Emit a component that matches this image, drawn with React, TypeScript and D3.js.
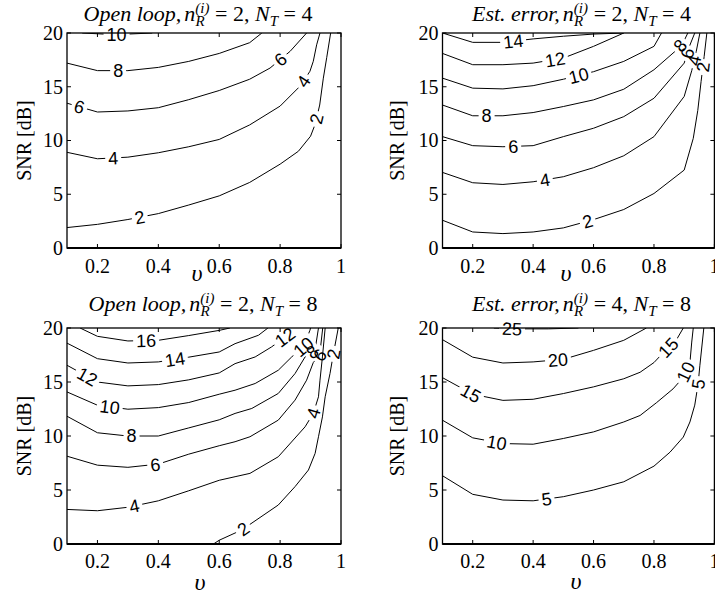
import React from "react";
import * as d3 from "d3";

type Pt = [number, number];
interface Contour { level: number; pts: Pt[] }
interface Label { level: number; v: number; s: number }

const xTicks = [0.2, 0.4, 0.6, 0.8, 1];
const yTicks = [0, 5, 10, 15, 20];
const xDomain: [number, number] = [0.1, 1];
const yDomain: [number, number] = [0, 20];

// Panel 1: Open loop, nR=2, NT=4
const ol4Contours: Contour[] = [
  { level: 2, pts: [[0.1, 1.9], [0.2, 2.2], [0.3, 2.65], [0.4, 3.2], [0.5, 4.0], [0.6, 4.85], [0.7, 6.1], [0.8, 7.8], [0.86, 9.0], [0.9, 10.4], [0.915, 11.5], [0.93, 13.3], [0.942, 15.8], [0.953, 17.7], [0.966, 20]] },
  { level: 4, pts: [[0.1, 8.9], [0.2, 8.3], [0.3, 8.45], [0.4, 8.86], [0.5, 9.42], [0.6, 10.1], [0.7, 11.45], [0.8, 13.2], [0.865, 15.04], [0.898, 16.44], [0.909, 17.37], [0.92, 18.9], [0.931, 20]] },
  { level: 6, pts: [[0.1, 13.47], [0.2, 12.65], [0.3, 12.75], [0.4, 13.05], [0.5, 13.8], [0.6, 14.65], [0.7, 15.7], [0.767, 16.74], [0.833, 18.3], [0.887, 20]] },
  { level: 8, pts: [[0.1, 17.2], [0.2, 16.5], [0.3, 16.5], [0.4, 16.8], [0.5, 17.36], [0.6, 18.1], [0.7, 19.1], [0.74, 20]] },
  { level: 10, pts: [[0.15, 20], [0.22, 19.9], [0.3, 19.9], [0.38, 20]] },
];
const ol4Labels: Label[] = [
  { level: 2, v: 0.34, s: 2.7 }, { level: 2, v: 0.92, s: 12.0 },
  { level: 4, v: 0.252, s: 8.3 }, { level: 4, v: 0.882, s: 15.4 },
  { level: 6, v: 0.137, s: 12.8 }, { level: 6, v: 0.805, s: 17.4 },
  { level: 8, v: 0.268, s: 16.45 },
  { level: 10, v: 0.263, s: 19.9 },
];

// Panel 2: Est. error, nR=2, NT=4
const ee4Contours: Contour[] = [
  { level: 2, pts: [[0.1, 2.58], [0.2, 1.49], [0.3, 1.34], [0.4, 1.49], [0.5, 1.87], [0.6, 2.64], [0.7, 3.58], [0.8, 5.07], [0.9, 7.25], [0.93, 10.2], [0.945, 12.8], [0.956, 15.5], [0.966, 17.8], [0.975, 20]] },
  { level: 4, pts: [[0.1, 7.03], [0.2, 6.07], [0.3, 5.91], [0.4, 6.16], [0.5, 6.63], [0.6, 7.47], [0.7, 8.58], [0.8, 10.36], [0.9, 14.1], [0.925, 16.5], [0.94, 18.3], [0.952, 20]] },
  { level: 6, pts: [[0.1, 10.36], [0.2, 9.52], [0.3, 9.42], [0.4, 9.52], [0.5, 10.36], [0.6, 11.14], [0.7, 12.22], [0.8, 13.93], [0.9, 17.2], [0.915, 18.6], [0.935, 20]] },
  { level: 8, pts: [[0.1, 13.3], [0.2, 12.3], [0.3, 12.3], [0.4, 12.6], [0.5, 13.16], [0.6, 13.78], [0.7, 14.77], [0.8, 16.58], [0.87, 18.3], [0.9, 19.3], [0.912, 20]] },
  { level: 10, pts: [[0.1, 15.8], [0.2, 14.87], [0.3, 14.8], [0.4, 15.1], [0.5, 15.7], [0.6, 16.4], [0.7, 17.36], [0.8, 18.76], [0.825, 20]] },
  { level: 12, pts: [[0.1, 18.1], [0.2, 17.05], [0.3, 17.05], [0.4, 17.2], [0.5, 17.67], [0.6, 18.76], [0.7, 20]] },
  { level: 14, pts: [[0.1, 20], [0.2, 19.13], [0.3, 19.13], [0.4, 19.45], [0.5, 19.7], [0.6, 19.9], [0.7, 20]] },
];
const ee4Labels: Label[] = [
  { level: 2, v: 0.583, s: 2.2 }, { level: 2, v: 0.972, s: 16.8 },
  { level: 4, v: 0.439, s: 6.3 }, { level: 4, v: 0.939, s: 17.4 },
  { level: 6, v: 0.334, s: 9.42 }, { level: 6, v: 0.913, s: 18.1 },
  { level: 8, v: 0.246, s: 12.2 }, { level: 8, v: 0.884, s: 18.9 },
  { level: 10, v: 0.55, s: 16.1 },
  { level: 12, v: 0.472, s: 17.67 },
  { level: 14, v: 0.334, s: 19.2 },
];

// Panel 3: Open loop, nR=2, NT=8
const ol8Contours: Contour[] = [
  { level: 2, pts: [[0.581, 0], [0.6, 0.35], [0.674, 1.3], [0.794, 3.61], [0.849, 5.31], [0.893, 6.85], [0.915, 8.39], [0.926, 9.93], [0.939, 11.77], [0.948, 13.63], [0.964, 15.8], [0.975, 17.6], [0.991, 20]] },
  { level: 4, pts: [[0.1, 3.2], [0.2, 3.08], [0.3, 3.4], [0.4, 4.0], [0.5, 4.93], [0.6, 5.9], [0.652, 6.23], [0.701, 6.54], [0.794, 8.08], [0.882, 10.85], [0.909, 12.09], [0.926, 13.63], [0.931, 15.17], [0.939, 17.32], [0.948, 20]] },
  { level: 6, pts: [[0.1, 8.13], [0.2, 7.3], [0.3, 7.1], [0.4, 7.4], [0.5, 8.32], [0.6, 9.1], [0.652, 9.47], [0.701, 9.93], [0.794, 11.47], [0.849, 13.32], [0.887, 15.17], [0.909, 16.8], [0.93, 17.5], [0.94, 20]] },
  { level: 8, pts: [[0.1, 11.83], [0.2, 10.3], [0.3, 10.0], [0.4, 10.0], [0.5, 10.75], [0.6, 11.5], [0.652, 12.09], [0.707, 12.55], [0.794, 13.94], [0.849, 15.78], [0.882, 17.32], [0.915, 18.0], [0.926, 20]] },
  { level: 10, pts: [[0.1, 14.08], [0.2, 12.85], [0.3, 12.48], [0.4, 12.63], [0.5, 13.1], [0.6, 13.87], [0.652, 14.24], [0.718, 14.86], [0.794, 16.09], [0.838, 17.32], [0.876, 18.25], [0.898, 19.79], [0.9, 20]] },
  { level: 12, pts: [[0.1, 16.55], [0.2, 15.0], [0.3, 14.64], [0.4, 14.76], [0.5, 15.2], [0.6, 15.84], [0.652, 16.7], [0.718, 17.32], [0.772, 18.25], [0.816, 19.17], [0.844, 20]] },
  { level: 14, pts: [[0.1, 18.6], [0.2, 17.16], [0.3, 16.76], [0.4, 16.86], [0.5, 17.3], [0.6, 17.78], [0.652, 18.55], [0.729, 19.33], [0.76, 20]] },
  { level: 16, pts: [[0.143, 20], [0.2, 19.23], [0.3, 18.8], [0.4, 18.86], [0.5, 19.3], [0.6, 19.78], [0.635, 20]] },
];
const ol8Labels: Label[] = [
  { level: 2, v: 0.68, s: 1.35 }, { level: 2, v: 0.975, s: 17.6 },
  { level: 4, v: 0.323, s: 3.3 }, { level: 4, v: 0.912, s: 12.1 },
  { level: 6, v: 0.39, s: 7.3 }, { level: 6, v: 0.93, s: 17.5 },
  { level: 8, v: 0.312, s: 9.95 }, { level: 8, v: 0.905, s: 17.8 },
  { level: 10, v: 0.24, s: 12.6 }, { level: 10, v: 0.876, s: 18.25 },
  { level: 12, v: 0.165, s: 15.4 }, { level: 12, v: 0.816, s: 19.17 },
  { level: 14, v: 0.455, s: 17.0 },
  { level: 16, v: 0.36, s: 18.75 },
];

// Panel 4: Est. error, nR=4, NT=8
const ee8Contours: Contour[] = [
  { level: 5, pts: [[0.1, 6.32], [0.2, 4.6], [0.3, 4.07], [0.4, 4.0], [0.5, 4.38], [0.6, 5.0], [0.7, 5.76], [0.8, 7.21], [0.853, 8.5], [0.897, 9.9], [0.919, 11.3], [0.935, 12.86], [0.946, 14.8], [0.952, 16.55], [0.965, 20]] },
  { level: 10, pts: [[0.1, 11.46], [0.2, 9.83], [0.3, 9.3], [0.4, 9.24], [0.5, 9.77], [0.6, 10.38], [0.7, 11.3], [0.754, 11.9], [0.809, 13.1], [0.863, 14.36], [0.896, 15.4], [0.919, 16.8], [0.925, 18.7], [0.93, 20]] },
  { level: 15, pts: [[0.1, 15.4], [0.2, 13.87], [0.3, 13.3], [0.4, 13.4], [0.5, 13.93], [0.6, 14.55], [0.7, 15.3], [0.754, 15.9], [0.8, 16.8], [0.847, 18.2], [0.87, 18.7], [0.897, 20]] },
  { level: 20, pts: [[0.1, 18.92], [0.2, 17.3], [0.3, 16.76], [0.4, 16.86], [0.5, 17.1], [0.6, 17.93], [0.7, 18.86], [0.775, 20]] },
  { level: 25, pts: [[0.27, 20], [0.35, 19.92], [0.45, 19.92], [0.55, 20]] },
];
const ee8Labels: Label[] = [
  { level: 5, v: 0.445, s: 4.0 }, { level: 5, v: 0.946, s: 14.8 },
  { level: 10, v: 0.279, s: 9.3 }, { level: 10, v: 0.908, s: 15.9 },
  { level: 15, v: 0.191, s: 13.8 }, { level: 15, v: 0.847, s: 18.2 },
  { level: 20, v: 0.483, s: 16.86 },
  { level: 25, v: 0.33, s: 19.9 },
];

const SERIF = "Liberation Serif, Times New Roman, serif";
const SANS = "Liberation Sans, Arial, Helvetica, sans-serif";
const LABEL_FS = 18;
const TICK_FS = 20;
const TITLE_FS = 22;
const SUB_FS = 15;

interface PanelCfg {
  id: string;
  left: number; right: number; top: number; bottom: number;
  contours: Contour[]; labels: Label[];
  kind: string; nr: string; nt: string;
  titleX: number; titleY: number;
  upsX: number; upsY: number;
  ylabX: number;
  tickY: number;
}

function snap(pts: Pt[], px: number, py: number) {
  let best = { x: px, y: py, ang: 0, d: Infinity };
  for (let i = 0; i < pts.length - 1; i++) {
    const [ax, ay] = pts[i];
    const [bx, by] = pts[i + 1];
    const dx = bx - ax, dy = by - ay;
    const L2 = dx * dx + dy * dy || 1;
    let t = ((px - ax) * dx + (py - ay) * dy) / L2;
    t = Math.max(0, Math.min(1, t));
    const qx = ax + t * dx, qy = ay + t * dy;
    const d = Math.hypot(px - qx, py - qy);
    if (d < best.d) {
      let ang = (Math.atan2(dy, dx) * 180) / Math.PI;
      if (ang > 90) ang -= 180;
      if (ang < -90) ang += 180;
      best = { x: qx, y: qy, ang, d };
    }
  }
  return best;
}

function Panel({ cfg }: { cfg: PanelCfg }) {
  const x = d3.scaleLinear().domain(xDomain).range([cfg.left, cfg.right]);
  const y = d3.scaleLinear().domain(yDomain).range([cfg.bottom, cfg.top]);
  const line = d3.line<Pt>().x((d) => x(d[0])).y((d) => y(d[1]));
  const w = cfg.right - cfg.left;
  const h = cfg.bottom - cfg.top;

  const scr = cfg.contours.map((c) => ({ level: c.level, pts: c.pts.map((p) => [x(p[0]), y(p[1])] as Pt) }));
  const placed = cfg.labels.map((lb) => {
    const px = x(lb.v), py = y(lb.s);
    let bestIdx = 0;
    let best = { x: px, y: py, ang: 0, d: Infinity };
    scr.forEach((c, i) => {
      if (c.level !== lb.level) return;
      const r = snap(c.pts, px, py);
      if (r.d < best.d) { best = r; bestIdx = i; }
    });
    const txt = String(lb.level);
    const tw = txt.length * 0.556 * LABEL_FS;
    return { ...best, idx: bestIdx, txt, tw };
  });

  const tickLen = 4;
  return (
    <g>
      <defs>
        <clipPath id={`clip-${cfg.id}`}>
          <rect x={cfg.left} y={cfg.top} width={w} height={h} />
        </clipPath>
        {scr.map((c, i) => (
          <mask id={`mask-${cfg.id}-${i}`} key={i} maskUnits="userSpaceOnUse" x={0} y={0} width={715} height={599}>
            <rect x={0} y={0} width={715} height={599} fill="white" />
            {placed.filter((p) => p.idx === i).map((p, k) => (
              <rect key={k} x={-p.tw / 2 - 3} y={-LABEL_FS * 0.42} width={p.tw + 6} height={LABEL_FS * 0.84} fill="black"
                transform={`translate(${p.x},${p.y}) rotate(${p.ang})`} />
            ))}
          </mask>
        ))}
      </defs>
      <g clipPath={`url(#clip-${cfg.id})`}>
        {scr.map((c, i) => (
          <path key={i} d={line(cfg.contours[i].pts) || ""} fill="none" stroke="#000" strokeWidth={1}
            mask={`url(#mask-${cfg.id}-${i})`} />
        ))}
      </g>
      {placed.map((p, k) => (
        <text key={k} transform={`translate(${p.x},${p.y}) rotate(${p.ang})`} textAnchor="middle" dy="0.36em"
          fontFamily={SANS} fontSize={LABEL_FS} fill="#000">{p.txt}</text>
      ))}
      {xTicks.map((t) => (
        <g key={`xt${t}`}>
          <line x1={x(t)} x2={x(t)} y1={cfg.bottom} y2={cfg.bottom - tickLen} stroke="#000" />
          <line x1={x(t)} x2={x(t)} y1={cfg.top} y2={cfg.top + tickLen} stroke="#000" />
          <text x={x(t)} y={cfg.bottom + cfg.tickY} textAnchor="middle" fontFamily={SERIF} fontSize={TICK_FS}>{String(t)}</text>
        </g>
      ))}
      {yTicks.map((t) => (
        <g key={`yt${t}`}>
          <line x1={cfg.left} x2={cfg.left + tickLen} y1={y(t)} y2={y(t)} stroke="#000" />
          <line x1={cfg.right} x2={cfg.right - tickLen} y1={y(t)} y2={y(t)} stroke="#000" />
          <text x={cfg.left - 4} y={y(t) + 6.8} textAnchor="end" fontFamily={SERIF} fontSize={TICK_FS}>{String(t)}</text>
        </g>
      ))}
      <rect x={cfg.left} y={cfg.top} width={w} height={h} fill="none" stroke="#000" strokeWidth={1.3} />
      <line x1={cfg.left} x2={cfg.right} y1={cfg.bottom} y2={cfg.bottom} stroke="#000" strokeWidth={2} />
      <text transform={`translate(${cfg.ylabX},${(cfg.top + cfg.bottom) / 2}) rotate(-90)`} textAnchor="middle"
        fontFamily={SERIF} fontSize={20}>SNR [dB]</text>
      <text x={cfg.upsX} y={cfg.upsY} textAnchor="middle" fontFamily={SERIF} fontStyle="italic" fontSize={24}>υ</text>
      <text x={cfg.titleX} y={cfg.titleY} textAnchor="middle" fontFamily={SERIF} fontSize={TITLE_FS}>
        <tspan fontStyle="italic">{cfg.kind},</tspan>
        <tspan fontStyle="italic" dx={3}>n</tspan>
        <tspan fontStyle="italic" fontSize={SUB_FS} dy={-8}>(i)</tspan>
        <tspan fontStyle="italic" fontSize={SUB_FS} dx={-14} dy={13}>R</tspan>
        <tspan dx={5} dy={-5}>{` = ${cfg.nr}, `}</tspan>
        <tspan fontStyle="italic">N</tspan>
        <tspan fontStyle="italic" fontSize={SUB_FS} dy={5}>T</tspan>
        <tspan dy={-5}>{` = ${cfg.nt}`}</tspan>
      </text>
    </g>
  );
}

const panels: PanelCfg[] = [
  { id: "p1", left: 67, right: 341, top: 33, bottom: 248, contours: ol4Contours, labels: ol4Labels,
    kind: "Open loop", nr: "2", nt: "4", titleX: 198, titleY: 20.5, upsX: 197, upsY: 281, ylabX: 30.5, tickY: 25 },
  { id: "p2", left: 442.5, right: 714.4, top: 33, bottom: 248, contours: ee4Contours, labels: ee4Labels,
    kind: "Est. error", nr: "2", nt: "4", titleX: 581.5, titleY: 20.5, upsX: 566, upsY: 281, ylabX: 404, tickY: 25 },
  { id: "p3", left: 67, right: 341, top: 328, bottom: 544, contours: ol8Contours, labels: ol8Labels,
    kind: "Open loop", nr: "2", nt: "8", titleX: 203, titleY: 310.5, upsX: 200, upsY: 590, ylabX: 30.5, tickY: 24 },
  { id: "p4", left: 442.5, right: 714.4, top: 328, bottom: 544, contours: ee8Contours, labels: ee8Labels,
    kind: "Est. error", nr: "4", nt: "8", titleX: 581.5, titleY: 310.5, upsX: 576, upsY: 589, ylabX: 404, tickY: 24 },
];

export default function App() {
  return (
    <svg width={715} height={599} style={{ position: "absolute", left: 0, top: 0, background: "#fff" }}>
      <rect x={0} y={0} width={715} height={599} fill="#fff" />
      {panels.map((p) => (
        <Panel key={p.id} cfg={p} />
      ))}
    </svg>
  );
}
